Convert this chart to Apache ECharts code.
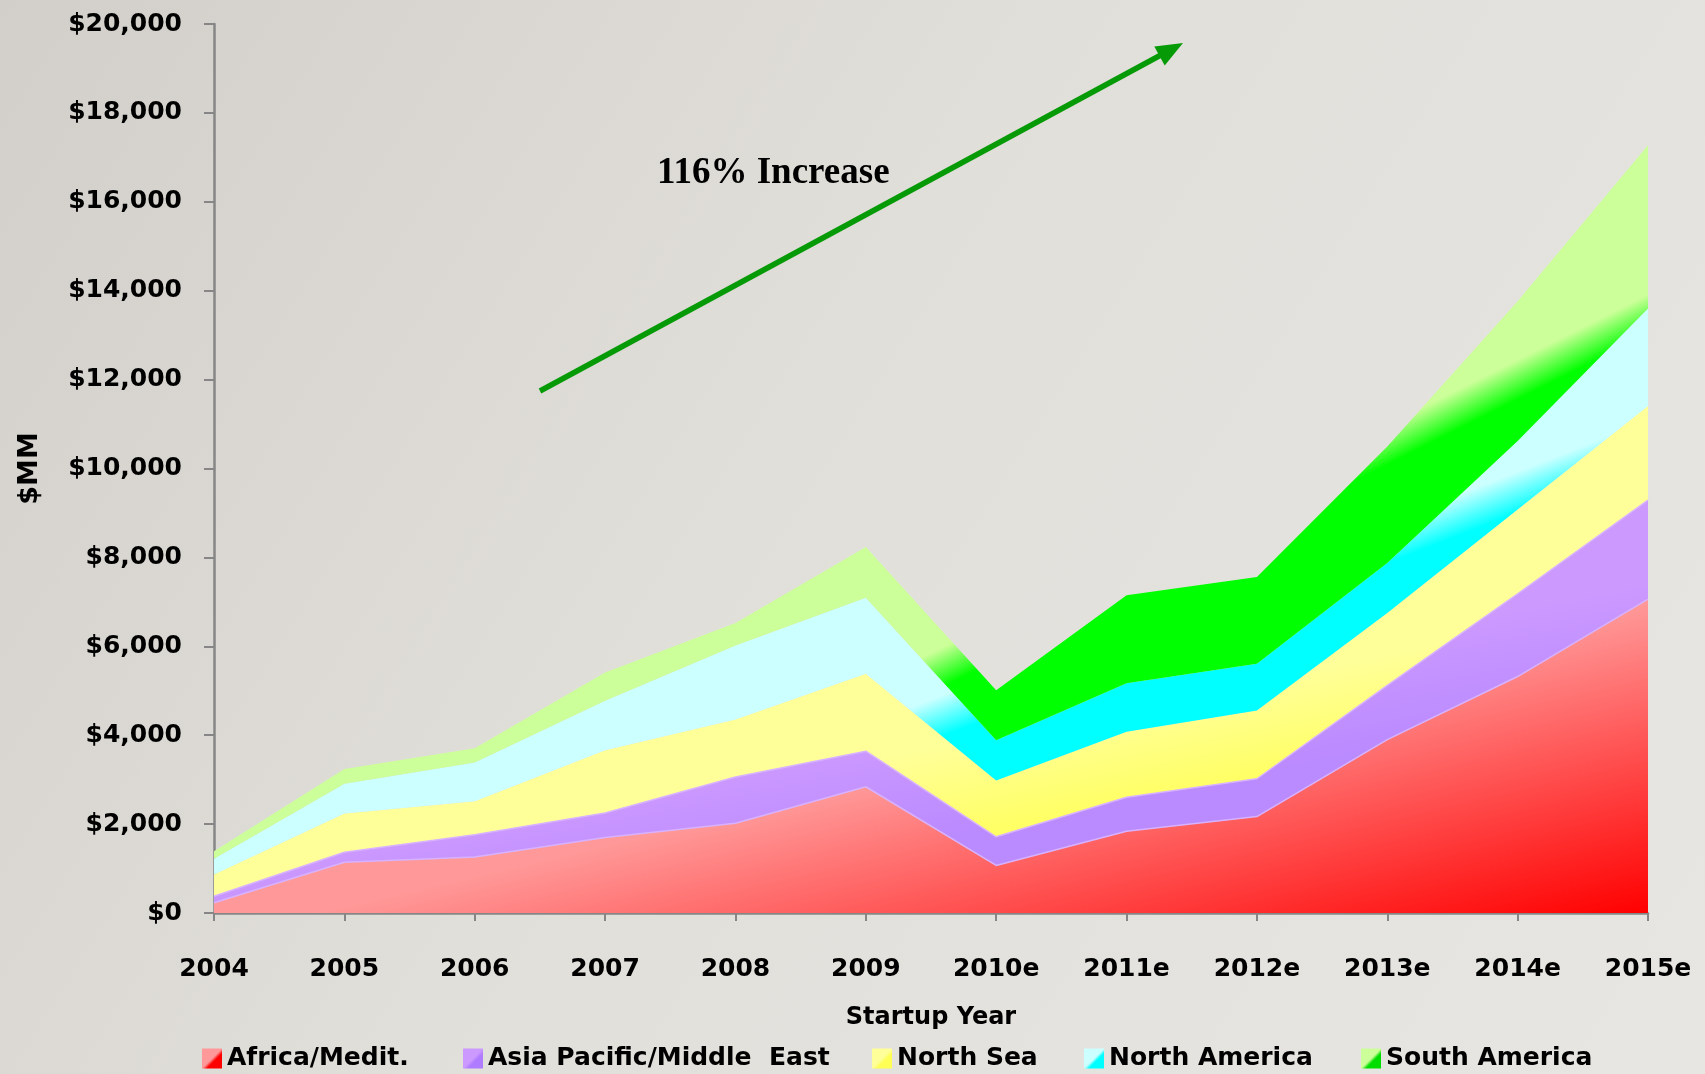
<!DOCTYPE html>
<html>
<head>
<meta charset="utf-8">
<title>Startup Year - $MM</title>
<script src="https://cdn.jsdelivr.net/npm/echarts@6/dist/echarts.min.js"></script>
<style>
  html, body { margin: 0; padding: 0; background: #e2e0db; }
  #chart { width: 1705px; height: 1074px; }
</style>
</head>
<body>
<div id="chart"></div>
<script>
// 横轴年份
const years = ['2004', '2005', '2006', '2007', '2008', '2009', '2010e', '2011e', '2012e', '2013e', '2014e', '2015e'];

// 各地区数值 ($MM)，按堆叠顺序从下到上
const africaMedit = [230, 1140, 1260, 1700, 2020, 2840, 1070, 1840, 2170, 3900, 5320, 7060];
const asiaPacific = [145, 225, 500, 550, 1040, 800, 645, 765, 850, 1220, 1860, 2230];
const northSea = [490, 875, 755, 1410, 1295, 1740, 1265, 1470, 1535, 1630, 1900, 2115];
const northAmerica = [355, 670, 870, 1115, 1665, 1715, 905, 1095, 1055, 1125, 1540, 2195];
const southAmerica = [170, 330, 320, 635, 505, 1140, 1125, 1980, 1950, 2620, 3140, 3670];

// 图例名称
const seriesNames = ['Africa/Medit.', 'Asia Pacific/Middle  East', 'North Sea', 'North America', 'South America'];

// 注释文字
const noteText = '116% Increase';

const FONT = 'DejaVu Sans';

// 全局坐标的渐变（浅色 -> 饱和色）
function band(x, y, x2, y2, light, dark) {
    return {
        type: 'linear', x: x, y: y, x2: x2, y2: y2, global: true,
        colorStops: [{ offset: 0, color: light }, { offset: 1, color: dark }]
    };
}

// 图例小方块的渐变
function icon(light, dark) {
    return {
        type: 'linear', x: 0, y: 0, x2: 1, y2: 1,
        colorStops: [
            { offset: 0, color: light },
            { offset: 0.5, color: light },
            { offset: 0.62, color: dark },
            { offset: 1, color: dark }
        ]
    };
}

const fills = [
    band(1579, 617, 1648, 913, '#FF9999', '#FF0000'),
    band(180, 882, 202, 990, '#CC99FF', '#BA8AFF'),
    band(184, 902, 202, 990, '#FFFF99', '#FFFF66'),
    band(930, 700, 944, 736, '#CCFFFF', '#00FFFF'),
    band(945, 646, 961, 678, '#CCFF99', '#00FF00')
];

const icons = [
    icon('#FF9999', '#FF0000'),
    icon('#CC99FF', '#B07CFF'),
    icon('#FFFF99', '#FFFF55'),
    icon('#CCFFFF', '#00FFFF'),
    icon('#CCFF99', '#00DD00')
];

const seriesData = [africaMedit, asiaPacific, northSea, northAmerica, southAmerica];

// 图例位置（每项单独放置）
const legendLefts = [202, 463, 872, 1084, 1361];

const chart = echarts.init(document.getElementById('chart'));

const option = {
    backgroundColor: {
        type: 'linear', x: 0, y: 0, x2: 1, y2: 1,
        colorStops: [
            { offset: 0, color: '#D2CFCA' },
            { offset: 0.45, color: '#E1DFDA' },
            { offset: 1, color: '#E8E6E2' }
        ]
    },
    animation: false,
    grid: { left: 214, right: 57, top: 24, bottom: 161, containLabel: false },
    legend: seriesNames.map((name, i) => ({
        left: legendLefts[i],
        top: 1046,
        itemWidth: 20,
        itemHeight: 20,
        icon: 'rect',
        padding: 0,
        data: [{ name: name, itemStyle: { color: icons[i] } }],
        textStyle: { fontFamily: FONT, fontWeight: 'bold', fontSize: 25, color: '#000' }
    })),
    xAxis: {
        type: 'category',
        data: years,
        boundaryGap: false,
        name: 'Startup Year',
        nameLocation: 'middle',
        nameGap: 93,
        nameTextStyle: { fontFamily: FONT, fontWeight: 'bold', fontSize: 24, color: '#000' },
        axisLine: { lineStyle: { color: '#868686', width: 2.5 } },
        axisTick: { length: 8, lineStyle: { color: '#868686', width: 2 } },
        axisLabel: { margin: 44, fontFamily: FONT, fontWeight: 'bold', fontSize: 25, color: '#000' },
        splitLine: { show: false }
    },
    yAxis: {
        type: 'value',
        min: 0,
        max: 20000,
        interval: 2000,
        name: '$MM',
        nameLocation: 'middle',
        nameRotate: 90,
        nameGap: 171,
        nameTextStyle: { fontFamily: FONT, fontWeight: 'bold', fontSize: 27, color: '#000' },
        axisLine: { show: true, lineStyle: { color: '#868686', width: 2.5 } },
        axisTick: { show: true, length: 10, lineStyle: { color: '#868686', width: 2 } },
        axisLabel: {
            margin: 32,
            fontFamily: FONT, fontWeight: 'bold', fontSize: 25, color: '#000',
            formatter: v => '$' + v.toLocaleString('en-US')
        },
        splitLine: { show: false }
    },
    graphic: [
        {
            type: 'line',
            shape: { x1: 540, y1: 391, x2: 1160, y2: 55.5 },
            style: { stroke: '#079A07', lineWidth: 5.5 },
            z: 100
        },
        {
            type: 'polygon',
            shape: { points: [[1183, 43], [1164.7, 65.5], [1154.3, 46.5]] },
            style: { fill: '#079A07' },
            z: 100
        },
        {
            type: 'text',
            left: 657,
            top: 155,
            style: {
                text: noteText,
                font: 'bold 37px "Liberation Serif", "Times New Roman", serif',
                fill: '#000'
            },
            z: 100
        }
    ],
    series: seriesNames.map((name, i) => ({
        name: name,
        type: 'line',
        stack: 'total',
        data: seriesData[i],
        symbol: 'none',
        showSymbol: false,
        lineStyle: i < 2 ? { width: 1.5, color: '#D8B2FF' } : { width: 0 },
        itemStyle: { color: icons[i] },
        areaStyle: { color: fills[i], opacity: 1 },
        emphasis: { disabled: true }
    }))
};

chart.setOption(option);
window.addEventListener('resize', () => chart.resize());
</script>
</body>
</html>
